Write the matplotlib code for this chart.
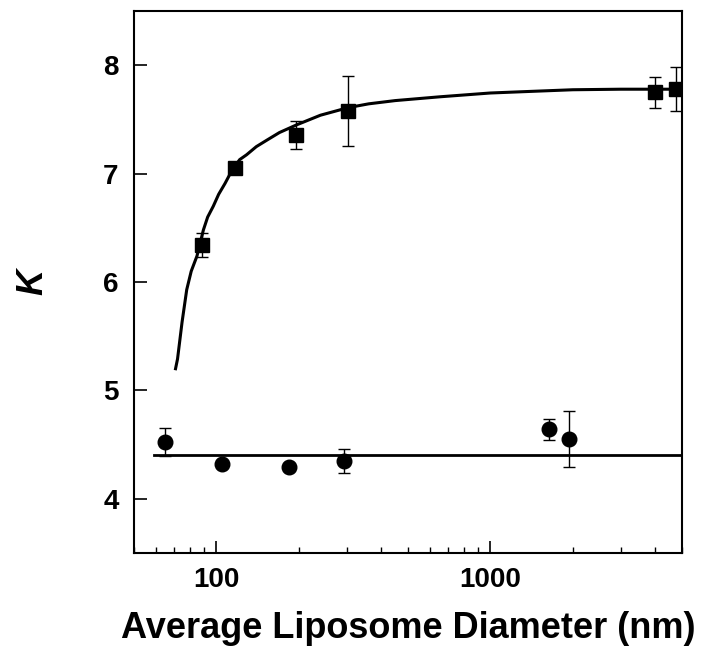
import matplotlib
matplotlib.use("Agg")
import matplotlib.pyplot as plt
from matplotlib.ticker import LogLocator, FixedLocator, NullFormatter, FixedFormatter

# Squares (upper series)
sq_d = [88.5, 117, 196, 303, 4000, 4760]
sq_k = [6.345, 7.05, 7.36, 7.58, 7.75, 7.78]
sq_err = [0.11, 0.04, 0.13, 0.32, 0.145, 0.205]

# Circles (lower series)
ci_d = [65.1, 105, 183.6, 292, 1644, 1945]
ci_k = [4.525, 4.325, 4.294, 4.35, 4.64, 4.55]
ci_err = [0.13, 0.0, 0.0, 0.11, 0.10, 0.26]

# Fitted curve
fit_d = [71, 72.2, 75, 78, 81, 85, 89.7, 93, 97.5, 102, 107.6, 114, 121.7, 129,
         140, 153, 170, 196, 240, 303, 360, 450, 655, 1000, 1410, 2000, 3000, 5000]
fit_k = [5.2, 5.29, 5.63, 5.93, 6.1, 6.24, 6.48, 6.6, 6.70, 6.81, 6.91, 7.03, 7.13, 7.175,
         7.25, 7.31, 7.38, 7.45, 7.54, 7.61, 7.645, 7.675, 7.71, 7.745, 7.76, 7.775, 7.78, 7.78]

# Horizontal line for circles
line_d = [59, 5000]
line_k = [4.405, 4.405]

yticks = [4, 5, 6, 7, 8]
xtick_labels = ["100", "1000"]

plt.rcParams['font.family'] = ['Liberation Sans', 'DejaVu Sans']

fig = plt.figure(figsize=(7.08, 6.59), dpi=100)
ax = fig.add_axes([0.189, 0.161, 0.774, 0.822])

ax.plot(fit_d, fit_k, color='black', lw=2.2, zorder=2)
ax.plot(line_d, line_k, color='black', lw=2.0, zorder=2)

ax.errorbar(sq_d, sq_k, yerr=sq_err, fmt='s', color='black', ms=10.5,
            ecolor='black', elinewidth=1.0, capsize=4, capthick=1.0, zorder=3)
ax.errorbar(ci_d, ci_k, yerr=ci_err, fmt='o', color='black', ms=10.5,
            ecolor='black', elinewidth=1.0, capsize=4, capthick=1.0, zorder=3)

ax.set_xscale('log')
ax.set_xlim(50, 5000)
ax.set_ylim(3.5, 8.5)

ax.xaxis.set_major_locator(FixedLocator([100, 1000]))
ax.xaxis.set_major_formatter(FixedFormatter(xtick_labels))
ax.xaxis.set_minor_locator(LogLocator(base=10, subs=range(2, 10), numticks=20))
ax.xaxis.set_minor_formatter(NullFormatter())
ax.set_yticks(yticks)
ax.set_yticklabels([str(v) for v in yticks])

ax.tick_params(axis='both', which='major', direction='in', length=9, width=1.2,
               labelsize=20, top=False, right=False)
ax.tick_params(axis='y', which='major', pad=11)
ax.tick_params(axis='x', which='major', pad=10)
ax.tick_params(axis='x', which='minor', direction='in', length=4.5, width=1.0,
               top=False)
for lab in ax.get_xticklabels() + ax.get_yticklabels():
    lab.set_fontweight('bold')

for s in ax.spines.values():
    s.set_linewidth(1.5)

ax.set_xlabel('Average Liposome Diameter (nm)', fontsize=26, fontweight='bold', labelpad=13)
ax.set_ylabel('K', fontsize=26, fontweight='bold', fontstyle='italic', labelpad=38)

fig.savefig('out.png', dpi=100)
